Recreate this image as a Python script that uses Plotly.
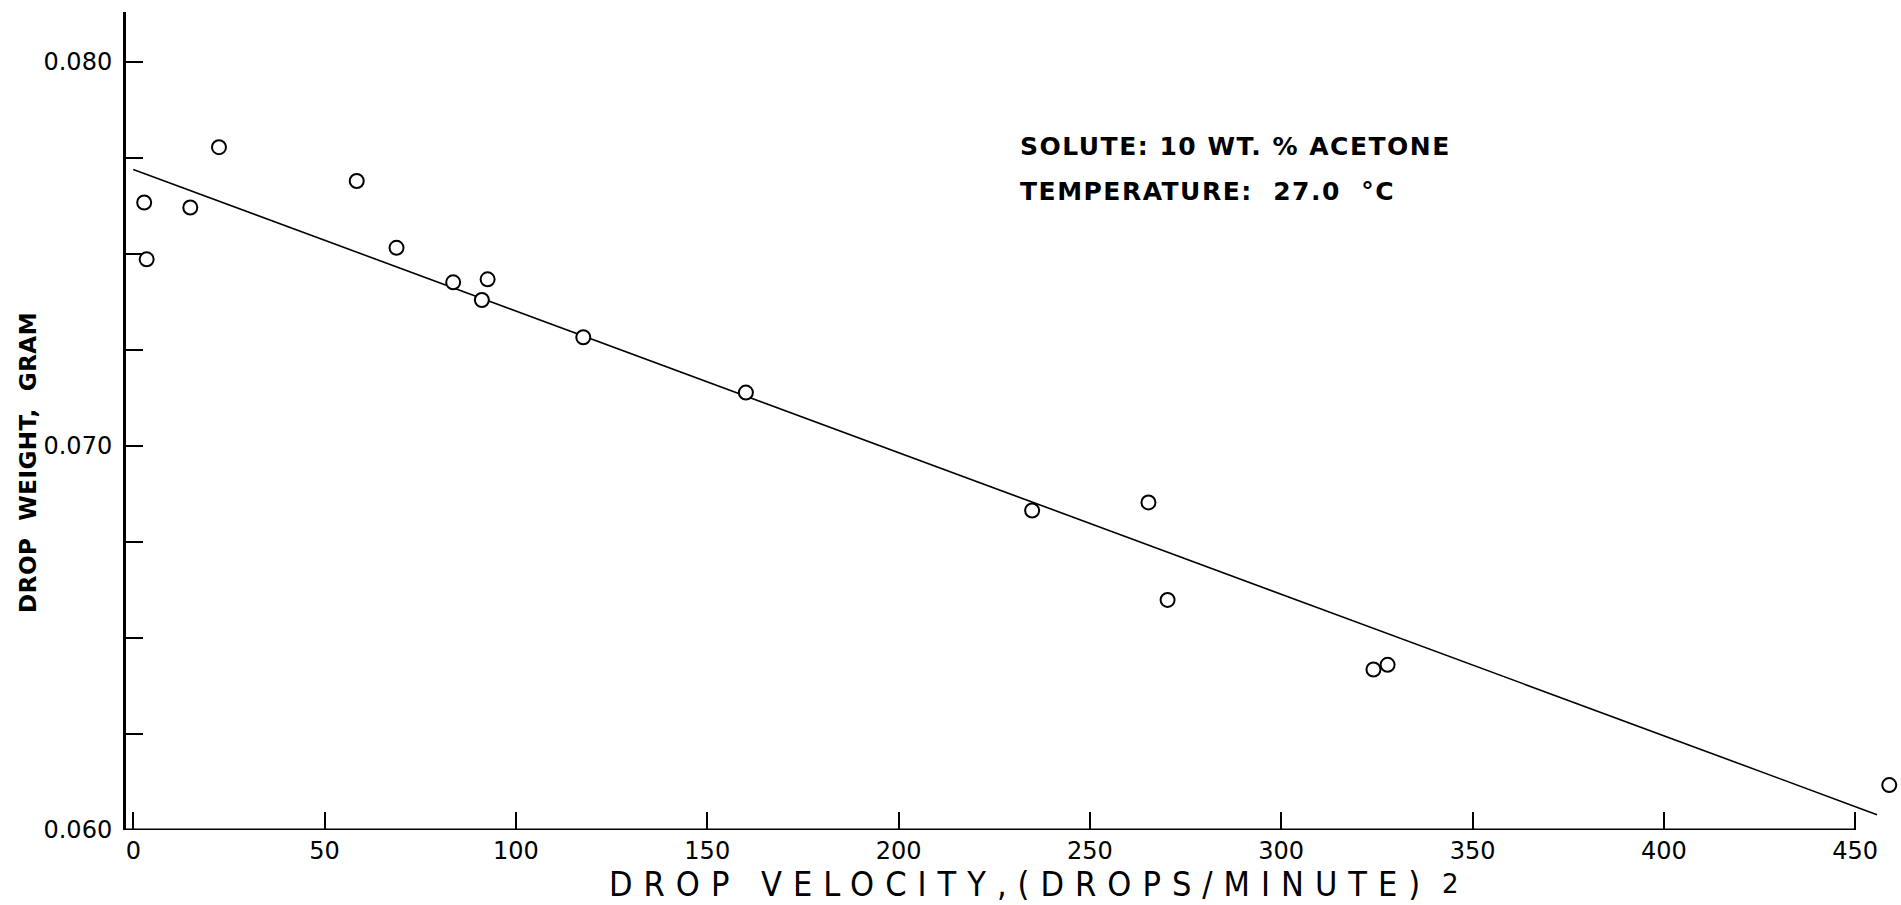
import plotly.graph_objects as go

# ---- data ----
drop_velocity = [2.85, 3.5, 14.9, 22.4, 58.4, 68.8, 83.6, 91.1, 92.6, 117.6,
                 160.1, 234.9, 265.3, 270.3, 324.1, 327.8, 458.9]
drop_weight = [0.07634, 0.07486, 0.07621, 0.07778, 0.07690, 0.07516, 0.07426,
               0.07380, 0.07434, 0.07283, 0.07139, 0.06832, 0.06853, 0.06599,
               0.06418, 0.06430, 0.06117]

fit_x = [0.0, 455.7]
fit_y = [0.0772, 0.0604]

x_ticks = [0, 50, 100, 150, 200, 250, 300, 350, 400, 450]
x_ticktext = ["0", "50", "100", "150", "200", "250", "300", "350", "400", "450"]
y_ticks = [0.0600, 0.0625, 0.0650, 0.0675, 0.0700, 0.0725, 0.0750, 0.0775, 0.0800]
y_ticktext = ["0.060", "", "", "", "0.070", "", "", "", "0.080"]

FONT = "DejaVu Sans"

fig = go.Figure()
fig.add_trace(go.Scatter(x=fit_x, y=fit_y, mode="lines",
                         line=dict(color="black", width=1.6),
                         hoverinfo="skip", showlegend=False))
fig.add_trace(go.Scatter(x=drop_velocity, y=drop_weight, mode="markers",
                         marker=dict(symbol="circle", size=14, color="white",
                                     line=dict(color="black", width=2)),
                         cliponaxis=False, showlegend=False))

fig.update_layout(
    width=1901, height=905, autosize=False,
    margin=dict(l=126, r=6, t=12, b=75, pad=0),
    paper_bgcolor="white", plot_bgcolor="white",
    font=dict(family=FONT, color="black"),
    xaxis=dict(range=[-1.9, 460.4], tickmode="array", tickvals=x_ticks,
               ticktext=x_ticktext, ticks="inside", ticklen=18, tickwidth=1.5,
               tickcolor="black", showgrid=False, zeroline=False, showline=False,
               tickfont=dict(family=FONT, size=24, color="black"),
               ticklabelstandoff=4),
    yaxis=dict(range=[0.060, 0.0813], tickmode="array", tickvals=y_ticks,
               ticktext=y_ticktext, ticks="inside", ticklen=17, tickwidth=1.5,
               tickcolor="black", showgrid=False, zeroline=False, showline=True,
               linewidth=3, linecolor="black",
               tickfont=dict(family=FONT, size=24, color="black"),
               ticklabelstandoff=6),
    shapes=[dict(type="line", xref="x", yref="y", x0=-1.9, x1=450,
                 y0=0.060, y1=0.060, line=dict(color="black", width=3))],
    annotations=[
        dict(text='<span style="letter-spacing:11px">DROP VELOCITY,(DROPS/MINUTE)</span>',
             xref="paper", yref="paper", x=0.5054, y=-0.0660,
             xanchor="center", yanchor="middle", showarrow=False,
             font=dict(family="Liberation Sans Narrow, DejaVu Sans Condensed, Liberation Sans",
                       size=34, color="black")),
        dict(text="2", xref="paper", yref="paper", x=0.749, y=-0.0660,
             xanchor="center", yanchor="middle", showarrow=False,
             font=dict(family=FONT, size=26, color="black")),
        dict(text='<span style="letter-spacing:0.5px">DROP\u00a0\u00a0WEIGHT,\u00a0\u00a0GRAM</span>',
             xref="paper", yref="paper", x=-0.0554, y=0.45, textangle=-90,
             xanchor="center", yanchor="middle", showarrow=False,
             font=dict(family=FONT, size=23, color="black", weight="bold")),
        dict(text='<span style="letter-spacing:1.5px">SOLUTE:\u00a010\u00a0WT.\u00a0%\u00a0ACETONE</span>',
             xref="paper", yref="paper", x=0.5042, y=0.835,
             xanchor="left", yanchor="middle", showarrow=False,
             font=dict(family=FONT, size=25, color="black", weight="bold")),
        dict(text='<span style="letter-spacing:1.5px">TEMPERATURE:\u00a0\u00a027.0\u00a0\u00a0°C</span>',
             xref="paper", yref="paper", x=0.5042, y=0.780,
             xanchor="left", yanchor="middle", showarrow=False,
             font=dict(family=FONT, size=25, color="black", weight="bold")),
    ],
)

fig.write_html("out.html")
